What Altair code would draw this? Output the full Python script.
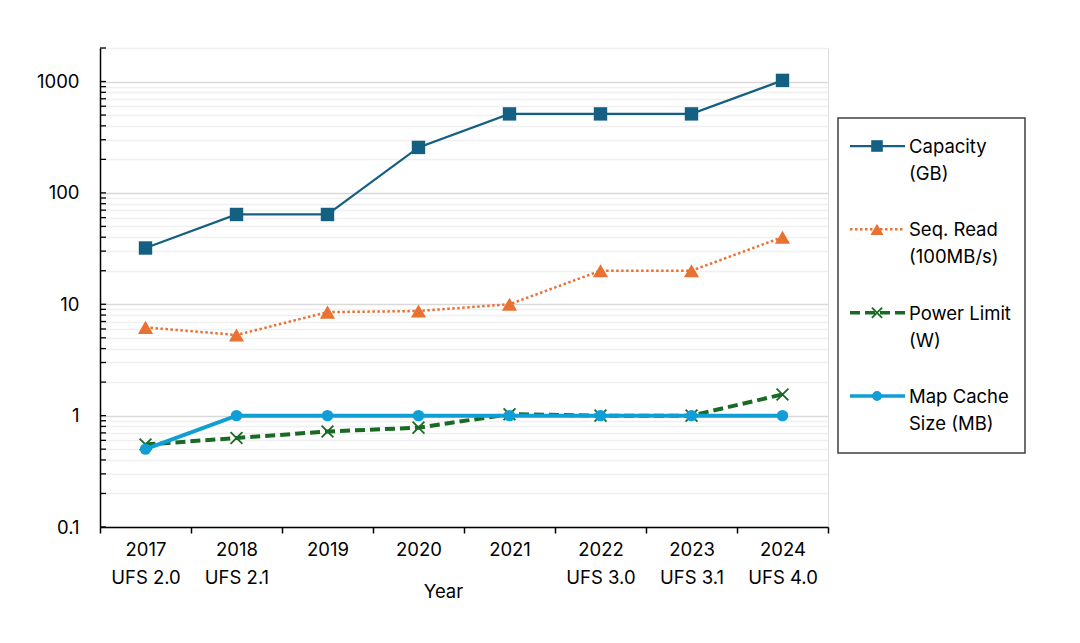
import altair as alt
import pandas as pd

# ---------------- data ----------------
years = ["2017", "2018", "2019", "2020", "2021", "2022", "2023", "2024"]
ufs_versions = ["UFS 2.0", "UFS 2.1", "", "", "", "UFS 3.0", "UFS 3.1", "UFS 4.0"]
capacity_gb = [32, 64, 64, 256, 512, 512, 512, 1024]
seq_read_100mbs = [6.2, 5.3, 8.5, 8.7, 10, 20, 20, 40]
power_limit_w = [0.55, 0.63, 0.72, 0.78, 1.03, 1.0, 1.0, 1.55]
map_cache_mb = [0.5, 1, 1, 1, 1, 1, 1, 1]

series_names = ["Capacity (GB)", "Seq. Read (100MB/s)", "Power Limit (W)", "Map Cache Size (MB)"]
legend_labels = ["Capacity\n(GB)", "Seq. Read\n(100MB/s)", "Power Limit\n(W)", "Map Cache\nSize (MB)"]
series_values = [capacity_gb, seq_read_100mbs, power_limit_w, map_cache_mb]

major_ticks = [0.1, 1, 10, 100, 1000]
minor_ticks = [k * 10.0 ** e for e in (-1, 0, 1, 2) for k in range(2, 10)] + [2000]
minor_ticks = [float(f"{v:.6g}") for v in minor_ticks]
all_ticks = sorted(major_ticks + minor_ticks)

# ---------------- styles ----------------
FONT = "Inter"
FS = 18.5
styles = {
    "Capacity (GB)": dict(color="#156082", width=2.25, dash=None, shape="square", size=180, filled=True),
    "Seq. Read (100MB/s)": dict(color="#E97132", width=2.5, dash=[2.5, 2.5], shape="triangle-up", size=230, filled=True),
    "Power Limit (W)": dict(color="#196B24", width=4, dash=[10, 5], shape="M-1,-1L1,1M-1,1L1,-1", size=140, filled=False),
    "Map Cache Size (MB)": dict(color="#0F9ED5", width=4, dash=None, shape="circle", size=130, filled=True),
}

cats = [y + ("|" + u if u else "") for y, u in zip(years, ufs_versions)]
rows = []
for name, vals in zip(series_names, series_values):
    for c, v in zip(cats, vals):
        rows.append({"cat": c, "series": name, "value": v})
df = pd.DataFrame(rows)

major_test = "indexof([0.1,1,10,100,1000], datum.value) >= 0"

yaxis = alt.Axis(
    values=all_ticks, format="~g",
    labelExpr=f"{major_test} ? datum.label : ''",
    labelOverlap=False, ticks=False, tickSize=0, labelPadding=21,
    labelFont=FONT, labelFontSize=FS, labelColor="#000000",
    domainColor="#000000", domainWidth=1.5,
    grid=True,
    gridColor={"condition": {"test": major_test, "value": "#d9d9d9"}, "value": "#f0f0f0"},
    gridWidth=1.3, title=None,
)
xaxis = alt.Axis(
    tickBand="extent", tickSize=6, tickColor="#000000", tickWidth=1.5,
    domainColor="#000000", domainWidth=1.5,
    labelExpr="split(datum.label, '|')", labelLineHeight=28, labelPadding=7,
    labelFont=FONT, labelFontSize=FS, labelColor="#000000", labelAngle=0,
    title="Year", titleFont=FONT, titleFontSize=FS, titleFontWeight="normal",
    titleColor="#000000", titleX=343, titleY=64, titleBaseline="middle",
    grid=False,
)


def ydef():
    return alt.Y("value:Q", scale=alt.Scale(type="log", domain=[0.1, 2000]), axis=yaxis)


def xdef():
    return alt.X("cat:N", sort=cats,
                 scale=alt.Scale(type="band", domain=cats, paddingInner=0, paddingOuter=0),
                 axis=xaxis)


main_layers = []
tick_df = pd.DataFrame({"value": all_ticks})
main_layers.append(
    alt.Chart(tick_df).mark_rule(color="#000000", strokeWidth=1.3).encode(
        x=alt.value(0), x2=alt.value(6), y=ydef()
    )
)

for name in series_names:
    st = styles[name]
    base = alt.Chart(df).transform_filter(alt.datum.series == name)
    line_kw = dict(color=st["color"], strokeWidth=st["width"])
    if st["dash"]:
        line_kw["strokeDash"] = st["dash"]
    main_layers.append(base.mark_line(**line_kw).encode(x=xdef(), y=ydef()))
    if st["filled"]:
        pt = base.mark_point(shape=st["shape"], size=st["size"], filled=True,
                             color=st["color"], opacity=1)
    else:
        pt = base.mark_point(shape=st["shape"], size=st["size"], filled=False,
                             color=st["color"], strokeWidth=1.8, opacity=1)
    main_layers.append(pt.encode(x=xdef(), y=ydef()))

main = alt.layer(*main_layers)

# ---------------- legend ----------------
leg_df = pd.DataFrame({"name": series_names, "label": legend_labels})


def ly():
    return alt.Y("name:N", scale=alt.Scale(type="point", domain=series_names,
                                           range=[98, 348], padding=0), axis=None)


legend_layers = [
    alt.Chart(alt.Data(values=[{"a": 1}])).mark_rect(
        fillOpacity=0, stroke="#404040", strokeWidth=1.5
    ).encode(x=alt.value(738), x2=alt.value(925), y=alt.value(70), y2=alt.value(405))
]
for name in series_names:
    st = styles[name]
    base = alt.Chart(leg_df).transform_filter(alt.datum.name == name)
    rule_kw = dict(color=st["color"], strokeWidth=min(st["width"], 3.5))
    if st["dash"]:
        rule_kw["strokeDash"] = st["dash"]
    legend_layers.append(base.mark_rule(**rule_kw).encode(
        x=alt.value(750), x2=alt.value(805), y=ly()))
    if st["filled"]:
        pt = base.mark_point(shape=st["shape"], size=st["size"] * 0.75, filled=True,
                             color=st["color"], opacity=1)
    else:
        pt = base.mark_point(shape=st["shape"], size=st["size"] * 0.75, filled=False,
                             color=st["color"], strokeWidth=1.8, opacity=1)
    legend_layers.append(pt.encode(x=alt.value(777), y=ly()))

legend_layers.append(
    alt.Chart(leg_df).mark_text(
        align="left", baseline="top", dy=-8, lineBreak="\n", lineHeight=27,
        font=FONT, fontSize=FS, color="#000000"
    ).encode(x=alt.value(809), y=ly(), text="label:N")
)
legend = alt.layer(*legend_layers)

chart = (
    alt.layer(main, legend)
    .resolve_scale(y="independent", x="independent")
    .properties(
        width=728, height=479,
        autosize=alt.AutoSizeParams(type="none"),
        padding={"left": 92, "top": 40, "right": 236, "bottom": 100},
        background="white",
    )
    .configure_view(stroke=None)
    .configure(font=FONT)
)

chart.save("out.html", embed_options={"renderer": "svg", "actions": False})
